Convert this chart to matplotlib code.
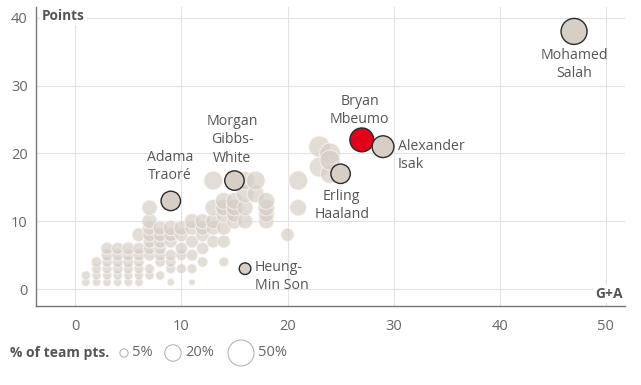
import matplotlib.pyplot as plt

plt.rcParams['font.family'] = ['Open Sans', 'DejaVu Sans']

# labelled players: goals+assists, points, % of team points
names = ['Mohamed\nSalah', 'Bryan\nMbeumo', 'Alexander\nIsak', 'Erling\nHaaland',
         'Morgan\nGibbs-\nWhite', 'Adama\nTraoré', 'Heung-\nMin Son']
star_ga = [47, 27, 29, 25, 15, 9, 16]
star_pts = [38, 22, 21, 17, 16, 13, 3]
star_pct = [50, 42, 35, 28, 28, 28, 10]
star_col = ['#d7cfc6', '#e2001a', '#d7cfc6', '#d7cfc6', '#d7cfc6', '#d7cfc6', '#d7cfc6']

# everybody else
bg_ga = [1, 1, 2, 2, 2, 2,
         3, 3, 3, 3, 3, 3,
         4, 4, 4, 4, 4, 4,
         5, 5, 5, 5, 5, 5,
         6, 6, 6, 6, 6, 6, 6,
         7, 7, 7, 7, 7, 7, 7, 7, 7,
         8, 8, 8, 8, 8, 8, 8,
         9, 9, 9, 9, 9, 9, 9,
         10, 10, 10, 10, 10,
         11, 11, 11, 11, 11, 11,
         12, 12, 12, 12, 12,
         13, 13, 13, 13, 13,
         14, 14, 14, 14, 14, 14,
         15, 15, 15, 15,
         16, 16, 16, 16,
         17, 17,
         18, 18, 18, 18,
         20, 21, 21, 23, 23, 24, 24, 24]
bg_pts = [1, 2, 1, 2, 3, 4,
          1, 2, 3, 4, 5, 6,
          1, 2, 3, 4, 5, 6,
          1, 2, 3, 4, 5, 6,
          1, 2, 3, 4, 5, 6, 8,
          2, 3, 5, 6, 7, 8, 9, 10, 12,
          2, 4, 5, 6, 7, 8, 9,
          1, 3, 4, 5, 7, 8, 9,
          3, 5, 6, 8, 9,
          1, 3, 5, 7, 9, 10,
          4, 6, 8, 9, 10,
          7, 9, 10, 12, 16,
          4, 7, 9, 11, 12, 13,
          10, 11, 12, 13,
          10, 12, 14, 16,
          14, 16,
          10, 11, 12, 13,
          8, 12, 16, 18, 21, 17, 20, 19]
bg_pct = [5, 6, 5, 6, 7, 8,
          5, 6, 7, 8, 10, 11,
          5, 6, 8, 9, 10, 11,
          5, 6, 7, 9, 10, 12,
          5, 6, 7, 8, 10, 11, 14,
          6, 7, 10, 11, 12, 14, 15, 17, 17,
          6, 8, 10, 11, 13, 14, 15,
          4, 7, 8, 10, 12, 14, 17,
          7, 9, 11, 14, 16,
          3, 7, 10, 12, 15, 17,
          8, 11, 14, 15, 17,
          12, 15, 17, 20, 26,
          7, 12, 15, 18, 20, 21,
          17, 18, 20, 21,
          17, 19, 23, 25,
          22, 26,
          17, 18, 20, 21,
          13, 20, 27, 29, 33, 27, 32, 30]

legend_pct = [5, 20, 50]
legend_lbl = ['5%', '20%', '50%']


def area(p):
    # marker area (pt^2) proportional to share of team points
    return 7.0 * p


fig = plt.figure(figsize=(6.41, 3.85), dpi=100)
ax = fig.add_axes([36 / 641, 1 - 306 / 385, 589 / 641, 299 / 385])

ax.scatter(bg_ga, bg_pts, s=[area(p) for p in bg_pct], c='#d6cdc4', alpha=0.68,
           edgecolors='#fbf8f4', linewidths=0.8, zorder=2)
ax.scatter(star_ga, star_pts, s=[area(p) for p in star_pct], c=star_col,
           edgecolors='#2a2a2a', linewidths=1.0, zorder=3)

lab = dict(color='#555555', fontsize=10.2, linespacing=1.3, zorder=4)
ax.text(47, 35.6, names[0], ha='center', va='top', **lab)
ax.text(26.8, 23.9, names[1], ha='center', va='bottom', **lab)
ax.text(30.4, 19.7, names[2], ha='left', va='center', **lab)
ax.text(25.1, 14.8, names[3], ha='center', va='top', **lab)
ax.text(14.8, 18.2, names[4], ha='center', va='bottom', **lab)
ax.text(8.9, 15.6, names[5], ha='center', va='bottom', **lab)
ax.text(16.9, 1.8, names[6], ha='left', va='center', **lab)

ax.set_xlim(-3.7, 51.8)
ax.set_ylim(-2.5, 41.6)
ax.set_xticks([0, 10, 20, 30, 40, 50])
ax.set_yticks([0, 10, 20, 30, 40])
ax.grid(True, color='#e2e2e2', linewidth=0.8, zorder=0)
ax.set_axisbelow(True)
for s in ['top', 'right']:
    ax.spines[s].set_visible(False)
for s in ['left', 'bottom']:
    ax.spines[s].set_color('#777777')
    ax.spines[s].set_linewidth(1.0)
ax.tick_params(length=0, labelsize=10.5, labelcolor='#666666')
ax.tick_params(axis='x', pad=9)
ax.tick_params(axis='y', pad=6)

ax.text(0.01, 40.3, 'Points', transform=ax.get_yaxis_transform(), ha='left', va='center',
        fontsize=9.8, fontweight='bold', color='#555555', zorder=5,
        bbox=dict(facecolor='white', edgecolor='none', pad=1.5))
ax.text(0.997, -0.7, 'G+A', transform=ax.get_yaxis_transform(), ha='right', va='center',
        fontsize=10, fontweight='bold', color='#555555', zorder=5,
        bbox=dict(facecolor='white', edgecolor='none', pad=1.5))

# size legend, drawn on an overlay in pixel units
lg = fig.add_axes([0, 0, 1, 1], zorder=-1)
lg.set_xlim(0, 641)
lg.set_ylim(385, 0)
lg.axis('off')
lg.text(10, 353, '% of team pts.', ha='left', va='center',
        fontsize=10, fontweight='bold', color='#555555')
leg_x = [124, 173, 241]
lg.scatter(leg_x, [353] * 3, s=[area(p) for p in legend_pct], facecolors='white',
           edgecolors='#b5b5b5', linewidths=0.8)
for x, p, t in zip(leg_x, legend_pct, legend_lbl):
    r = (area(p) ** 0.5) / 0.72 / 2
    lg.text(x + r + 4, 353, t, ha='left', va='center', fontsize=10.5, color='#666666')

fig.savefig('out.png', dpi=100)
